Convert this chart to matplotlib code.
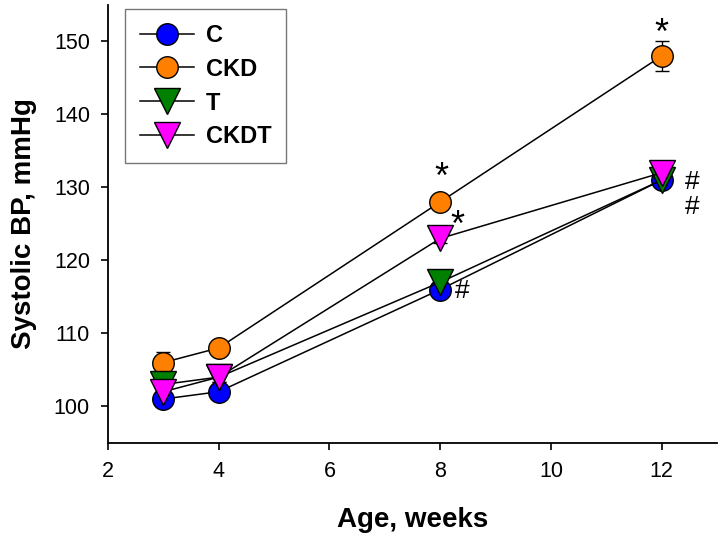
import matplotlib
matplotlib.use("Agg")
import matplotlib.pyplot as plt
from matplotlib.lines import Line2D

plt.rcParams['font.family'] = ['Liberation Sans', 'DejaVu Sans']

weeks = [3, 4, 8, 12]
c_vals = [101, 102, 116, 131]
ckd_vals = [106, 108, 128, 148]
t_vals = [103, 104, 117, 131]
ckdt_vals = [102, 104, 123, 132]
c_err = [0.6, 0.6, 0.6, 0.6]
ckd_err = [1.5, 0.8, 0.8, 2.0]
t_err = [1.5, 0.6, 0.6, 0.6]
ckdt_err = [0.6, 0.6, 0.6, 0.6]

xticks = [2, 4, 6, 8, 10, 12]
yticks = [100, 110, 120, 130, 140, 150]

fig = plt.figure(figsize=(7.25, 5.42), dpi=100)
ax = fig.add_axes([0.149, 0.183, 0.840, 0.808])

series = [
    ("C", c_vals, c_err, 'o', '#0000ff', 15.5),
    ("CKD", ckd_vals, ckd_err, 'o', '#ff8000', 15.5),
    ("T", t_vals, t_err, 'v', '#008000', 19),
    ("CKDT", ckdt_vals, ckdt_err, 'v', '#ff00ff', 19),
]
handles = []
for label, vals, err, mk, col, ms in series:
    ax.errorbar(weeks, vals, yerr=err, color='black', lw=1.1, marker=mk,
                markersize=ms, markerfacecolor=col, markeredgecolor='black',
                markeredgewidth=1.0, capsize=5, elinewidth=1.0, capthick=1.0)
    handles.append(Line2D([], [], color='black', lw=1.1, marker=mk,
                          markersize=ms, markerfacecolor=col,
                          markeredgecolor='black', markeredgewidth=1.0,
                          label=label))

ax.set_xlim(2, 13)
ax.set_ylim(95, 155)
ax.set_xticks(xticks)
ax.set_yticks(yticks)
ax.tick_params(direction='out', length=5, width=1.2, labelsize=15.5, pad=8)
for s in ['top', 'right']:
    ax.spines[s].set_visible(False)
for s in ['left', 'bottom']:
    ax.spines[s].set_linewidth(1.3)

ax.set_xlabel("Age, weeks", fontsize=20, fontweight='bold', labelpad=18)
ax.set_ylabel("Systolic BP, mmHg", fontsize=20, fontweight='bold', labelpad=12)

# annotations
ax.text(8.02, 131.2, "*", fontsize=26, ha='center', va='center')
ax.text(8.31, 124.6, "*", fontsize=26, ha='center', va='center')
ax.text(8.40, 115.8, "#", fontsize=19, ha='center', va='center')
ax.text(12.0, 150.9, "*", fontsize=26, ha='center', va='center')
ax.text(12.55, 130.8, "#", fontsize=19, ha='center', va='center')
ax.text(12.55, 127.3, "#", fontsize=19, ha='center', va='center')

leg = ax.legend(handles=handles, loc='upper left', bbox_to_anchor=(0.028, 0.99),
                borderaxespad=0, fancybox=False, edgecolor='#555555',
                prop={'weight': 'bold', 'size': 17}, handlelength=2.3,
                labelspacing=0.46, borderpad=0.62, handletextpad=0.5)
leg.get_frame().set_linewidth(1.0)

fig.savefig("out.png", dpi=100)
